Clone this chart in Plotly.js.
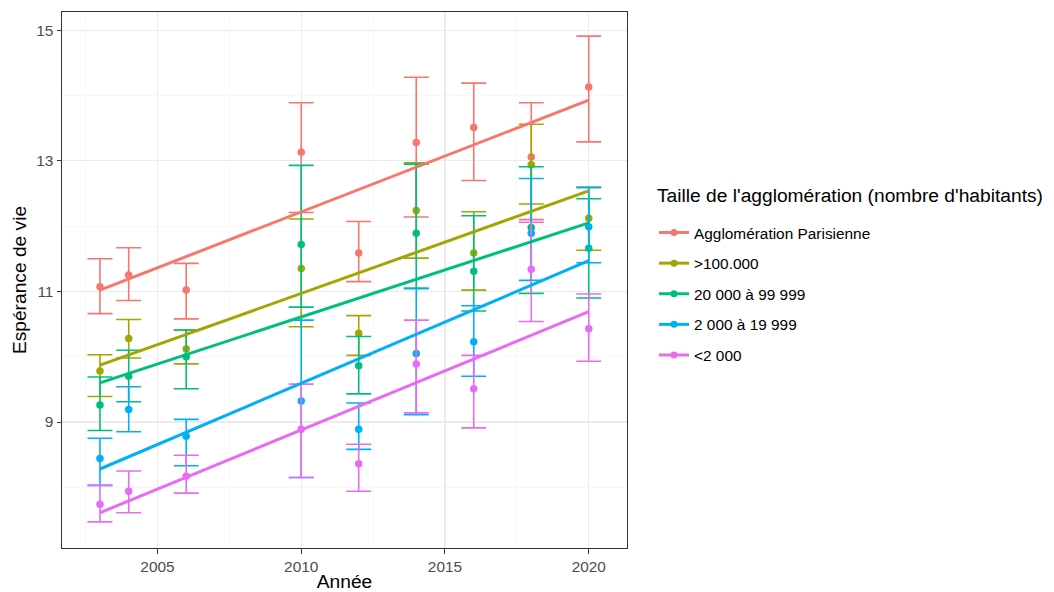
<!DOCTYPE html>
<html>
<head>
<meta charset="utf-8">
<script src="https://cdn.plot.ly/plotly-3.0.1.min.js"></script>
<style>html,body{margin:0;padding:0;background:#fff;}#chart{width:1054px;height:592px;}</style>
</head>
<body>
<div id="chart"></div>
<script>
// ---- Data ----
var years = [2003, 2004, 2006, 2010, 2012, 2014, 2016, 2018, 2020];

var legendTitle = "Taille de l'agglomération (nombre d'habitants)";
var groupNames = ["Agglomération Parisienne", ">100.000", "20 000 à 99 999", "2 000 à 19 999", "<2 000"];
var groupColors = ["#F8766D", "#A3A500", "#00BF7D", "#00B0F6", "#E76BF3"];

var parisValue = [11.07, 11.25, 11.02, 13.13, 11.59, 13.28, 13.51, 13.06, 14.13];
var parisUpper = [11.50, 11.67, 11.43, 13.89, 12.07, 14.28, 14.19, 13.89, 14.91];
var parisLower = [10.66, 10.86, 10.58, 12.21, 11.15, 12.14, 12.70, 12.10, 13.29];

var big100Value = [9.78, 10.28, 10.12, 11.35, 10.36, 12.24, 11.59, 12.94, 12.12];
var big100Upper = [10.03, 10.57, 10.41, 12.11, 10.63, 12.97, 12.22, 13.56, 12.60];
var big100Lower = [9.39, 9.98, 9.89, 10.46, 10.02, 11.51, 11.02, 12.34, 11.63];

var mid20Value = [9.26, 9.70, 10.00, 11.72, 9.86, 11.89, 11.31, 11.98, 11.66];
var mid20Upper = [9.69, 10.10, 10.41, 12.93, 10.31, 12.95, 12.16, 12.91, 12.42];
var mid20Lower = [8.87, 9.31, 9.51, 10.76, 9.43, 11.04, 10.70, 10.97, 10.90];

var small2Value = [8.44, 9.19, 8.78, 9.32, 8.89, 10.05, 10.23, 11.89, 11.99];
var small2Upper = [8.75, 9.54, 9.04, 10.56, 9.29, 11.05, 10.78, 12.73, 12.59];
var small2Lower = [8.03, 8.85, 8.33, 8.15, 8.58, 9.11, 9.70, 11.17, 11.44];

var ruralValue = [7.74, 7.94, 8.17, 8.89, 8.36, 9.89, 9.51, 11.34, 10.43];
var ruralUpper = [8.03, 8.25, 8.49, 9.58, 8.66, 10.56, 10.02, 12.06, 10.96];
var ruralLower = [7.47, 7.61, 7.91, 8.15, 7.94, 9.14, 8.91, 10.54, 9.93];

// linear trend lines (end points)
var fitYears = [2003, 2020];
var parisFit = [11.02, 13.93];
var big100Fit = [9.87, 12.54];
var mid20Fit = [9.60, 12.05];
var small2Fit = [8.28, 11.47];
var ruralFit = [7.61, 10.69];

// ---- Build traces ----
var series = [
  {v: parisValue, u: parisUpper, l: parisLower, f: parisFit},
  {v: big100Value, u: big100Upper, l: big100Lower, f: big100Fit},
  {v: mid20Value, u: mid20Upper, l: mid20Lower, f: mid20Fit},
  {v: small2Value, u: small2Upper, l: small2Lower, f: small2Fit},
  {v: ruralValue, u: ruralUpper, l: ruralLower, f: ruralFit}
];

var FONT = 'Liberation Sans, Arial, Helvetica, sans-serif';
var traces = [];
series.forEach(function (s, i) {
  traces.push({
    type: 'scatter', mode: 'markers', x: years, y: s.v,
    marker: {color: groupColors[i], size: 7.5},
    error_y: {
      type: 'data', symmetric: false,
      array: s.u.map(function (u, k) { return u - s.v[k]; }),
      arrayminus: s.l.map(function (l, k) { return s.v[k] - l; }),
      color: groupColors[i], thickness: 1.6, width: 12.5
    },
    showlegend: false, legendgroup: 'g' + i, hoverinfo: 'x+y'
  });
});
series.forEach(function (s, i) {
  traces.push({
    type: 'scatter', mode: 'lines', x: fitYears, y: s.f,
    line: {color: groupColors[i], width: 3},
    showlegend: false, legendgroup: 'g' + i, hoverinfo: 'skip'
  });
});
groupNames.forEach(function (n, i) {
  traces.push({
    type: 'scatter', mode: 'lines+markers', x: [null], y: [null], name: n,
    line: {color: groupColors[i], width: 3},
    marker: {color: groupColors[i], size: 7},
    showlegend: true, legendgroup: 'g' + i
  });
});

var axisCommon = {
  showgrid: true, gridcolor: '#EBEBEB', gridwidth: 1.1,
  zeroline: false, showline: true, mirror: true, linecolor: '#333333', linewidth: 1,
  ticks: 'outside', ticklen: 4.5, tickcolor: '#333333', tickwidth: 1,
  tickfont: {family: FONT, size: 15.4, color: '#4D4D4D'},
  automargin: false
};

var layout = {
  width: 1054, height: 592,
  margin: {l: 62, r: 427, t: 12, b: 44},
  paper_bgcolor: '#FFFFFF', plot_bgcolor: '#FFFFFF',
  font: {family: FONT, color: '#000000'},
  xaxis: Object.assign({}, axisCommon, {
    range: [2001.68, 2021.33], tick0: 2005, dtick: 5,
    minor: {dtick: 2.5, tick0: 2002.5, showgrid: true, gridcolor: '#F3F3F3', gridwidth: 0.6},
    title: {text: 'Année', font: {family: FONT, size: 19.2, color: '#000000'}, standoff: 2}
  }),
  yaxis: Object.assign({}, axisCommon, {
    range: [7.07, 15.28], tick0: 9, dtick: 2,
    minor: {dtick: 1, tick0: 8, showgrid: true, gridcolor: '#F3F3F3', gridwidth: 0.6},
    title: {text: 'Espérance de vie', font: {family: FONT, size: 19.2, color: '#000000'}, standoff: 4}
  }),
  legend: {
    xref: 'container', yref: 'container',
    x: 654 / 1054, y: 1 - 216 / 592, xanchor: 'left', yanchor: 'top',
    font: {family: FONT, size: 15.4, color: '#000000'},
    tracegroupgap: 7.6, itemwidth: 30, bgcolor: 'rgba(0,0,0,0)'
  },
  annotations: [{
    xref: 'paper', yref: 'paper', x: (655 - 62) / 565, y: 1 - (195 - 12) / 536,
    xanchor: 'left', yanchor: 'middle', showarrow: false,
    text: legendTitle, font: {family: FONT, size: 19.2, color: '#000000'}
  }],
  showlegend: true
};

Plotly.newPlot('chart', traces, layout, {displayModeBar: false, staticPlot: true});
</script>
</body>
</html>
